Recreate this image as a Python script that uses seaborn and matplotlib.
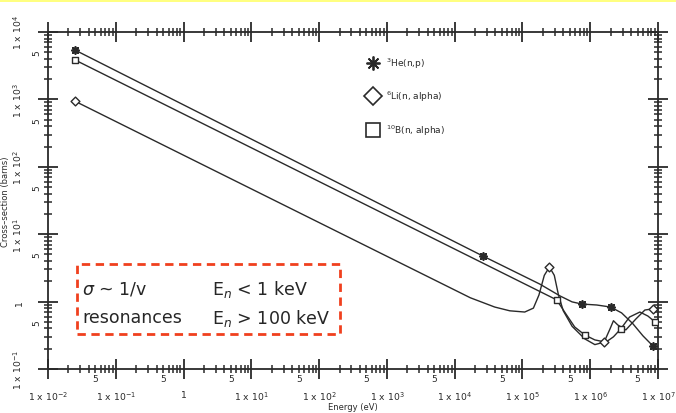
"""Neutron capture cross-sections of 3He, 6Li and 10B versus neutron energy."""

import numpy as np
import seaborn as sns
import matplotlib.pyplot as plt
from matplotlib.lines import Line2D
from matplotlib.patches import Rectangle
from matplotlib.ticker import LogLocator, FuncFormatter

###################################################################################################
###################################################################################################

# 3He(n,p) curve (energy in eV, cross-section in barns)
he3_energy = [0.025, 2.6e4, 1.8e5, 3.6e5, 5.4e5, 7.5e5, 1.25e6, 2.0e6, 2.9e6, 4.25e6, 6.0e6, 8.4e6]
he3_xsec = [5400, 4.75, 1.82, 1.21, 0.99, 0.92, 0.89, 0.83, 0.68, 0.47, 0.31, 0.22]
he3_mark_energy = [0.025, 2.6e4, 7.5e5, 2.0e6, 8.4e6]
he3_mark_xsec = [5400, 4.75, 0.92, 0.83, 0.22]

# 6Li(n,alpha) curve
li6_energy = [0.025, 1.7e4, 3.9e4, 6.5e4, 1.08e5, 1.45e5, 1.75e5, 2.1e5, 2.5e5, 2.95e5, 3.4e5,
              4.0e5, 5.4e5, 8.3e5, 1.17e6, 1.6e6, 1.95e6, 2.2e6, 2.55e6, 3.35e6, 4.7e6, 6.4e6, 8.4e6]
li6_xsec = [940, 1.14, 0.83, 0.73, 0.70, 0.80, 1.25, 2.45, 3.26, 2.45, 1.25,
            0.73, 0.43, 0.28, 0.23, 0.25, 0.39, 0.52, 0.45, 0.38, 0.55, 0.75, 0.78]
li6_mark_energy = [0.025, 2.5e5, 1.6e6, 8.4e6]
li6_mark_xsec = [940, 3.26, 0.25, 0.78]

# 10B(n,alpha) curve
b10_energy = [0.025, 3.2e5, 4.4e5, 5.9e5, 8.3e5, 1.17e6, 1.7e6, 2.2e6, 2.8e6, 3.8e6, 5.4e6, 7.1e6, 9.0e6]
b10_xsec = [3850, 1.06, 0.65, 0.42, 0.32, 0.27, 0.25, 0.30, 0.39, 0.59, 0.70, 0.61, 0.50]
b10_mark_energy = [0.025, 3.2e5, 8.3e5, 2.8e6, 9.0e6]
b10_mark_xsec = [3850, 1.06, 0.32, 0.39, 0.50]

labels = ['$^{3}$He(n,p)', '$^{6}$Li(n, alpha)', '$^{10}$B(n, alpha)']

x_major = [1e-2, 1e-1, 1, 1e1, 1e2, 1e3, 1e4, 1e5, 1e6, 1e7]
x_major_labels = ['1 x 10$^{-2}$', '1 x 10$^{-1}$', '1', '1 x 10$^{1}$', '1 x 10$^{2}$',
                  '1 x 10$^{3}$', '1 x 10$^{4}$', '1 x 10$^{5}$', '1 x 10$^{6}$', '1 x 10$^{7}$']
y_major = [1e-1, 1, 1e1, 1e2, 1e3, 1e4]
y_major_labels = ['1 x 10$^{-1}$', '1', '1 x 10$^{1}$', '1 x 10$^{2}$', '1 x 10$^{3}$', '1 x 10$^{4}$']

###################################################################################################
###################################################################################################

sns.set_style('white')
plt.rcParams['font.family'] = ['DejaVu Sans']

ink = '#2a2a2a'

fig = plt.figure(figsize=[6.76, 4.14], dpi=100)
ax = fig.add_axes([0.071, 0.1063, 0.9024, 0.814])

# Curves
for en, xs in [(he3_energy, he3_xsec), (li6_energy, li6_xsec), (b10_energy, b10_xsec)]:
    sns.lineplot(x=en, y=xs, sort=False, estimator=None, color=ink, linewidth=1.0, ax=ax)

# Markers along the curves
sns.scatterplot(x=he3_mark_energy, y=he3_mark_xsec, marker=(8, 2, 0), s=26, color=ink,
                linewidth=1.3, ax=ax, zorder=3)
sns.scatterplot(x=li6_mark_energy, y=li6_mark_xsec, marker='D', s=20, facecolor='white',
                edgecolor=ink, linewidth=1.0, ax=ax, zorder=3)
sns.scatterplot(x=b10_mark_energy, y=b10_mark_xsec, marker='s', s=20, facecolor='white',
                edgecolor=ink, linewidth=1.0, ax=ax, zorder=3)

ax.set_xscale('log')
ax.set_yscale('log')
ax.set_xlim([1e-2, 1e7])
ax.set_ylim([1e-1, 1e4])

# Ticks: major decades, minor 2..9, labels with '5' at the half decade
ax.set_xticks(x_major)
ax.set_xticklabels(x_major_labels)
ax.set_yticks(y_major)
ax.set_yticklabels(y_major_labels, rotation=90, va='center')

five = FuncFormatter(lambda v, p: '5' if abs(v / 10 ** np.floor(np.log10(v)) - 5) < 0.01 else '')
for axis in [ax.xaxis, ax.yaxis]:
    axis.set_minor_locator(LogLocator(base=10, subs=np.arange(2, 10), numticks=20))
    axis.set_minor_formatter(five)
for lab in ax.get_yticklabels(minor=True):
    lab.set_rotation(90)
    lab.set_va('center')

ax.tick_params(which='both', direction='inout', bottom=True, left=True, top=True, right=True,
               color=ink, labelcolor=ink)
ax.tick_params(which='major', length=14, width=1.3, labelsize=6.7)
ax.tick_params(which='minor', length=6, width=1.1, labelsize=6.5)
ax.tick_params(axis='x', which='major', pad=8)
ax.tick_params(axis='x', which='minor', pad=0.5)
ax.tick_params(axis='y', which='major', pad=10)
ax.tick_params(axis='y', which='minor', pad=1.5)

# Titles & Labels
ax.set_xlabel('Energy (eV)', fontsize=6, color=ink, labelpad=0)
ax.set_ylabel('Cross\u2013section (barns)', fontsize=6, color=ink, labelpad=1)

for side in ['left', 'right', 'top', 'bottom']:
    ax.spines[side].set_linewidth(1.3)
    ax.spines[side].set_color(ink)

# Legend with markers only
handles = [Line2D([], [], ls='none', marker=(8, 2, 0), ms=10, mew=1.3, color=ink),
           Line2D([], [], ls='none', marker='D', ms=9, mew=1.2, mfc='white', mec=ink),
           Line2D([], [], ls='none', marker='s', ms=10, mew=1.2, mfc='white', mec=ink)]
ax.legend(handles, labels, loc='upper left', bbox_to_anchor=(0.51, 0.955), frameon=False,
          fontsize=6.5, labelspacing=2.15, handlelength=1.2, handletextpad=0.9, labelcolor=ink)

# Annotation box
ax.add_patch(Rectangle((0.0475, 0.104), 0.4315, 0.208, transform=ax.transAxes, fill=False,
                       edgecolor='#f0401e', linewidth=2, linestyle=(0, (3, 2))))
ax.text(0.056, 0.240, '$\\sigma$ ~ 1/v', transform=ax.transAxes, fontsize=12.5, va='center')
ax.text(0.269, 0.240, 'E$_{n}$ < 1 keV', transform=ax.transAxes, fontsize=12.5, va='center')
ax.text(0.056, 0.154, 'resonances', transform=ax.transAxes, fontsize=12.5, va='center')
ax.text(0.269, 0.154, 'E$_{n}$ > 100 keV', transform=ax.transAxes, fontsize=12.5, va='center')

# Thin yellow strip along the top edge
fig.add_artist(Rectangle((0, 1 - 3 / 414), 1, 3 / 414, transform=fig.transFigure,
                         color='#ffff80', linewidth=0))

plt.savefig('out.png', dpi=100)
